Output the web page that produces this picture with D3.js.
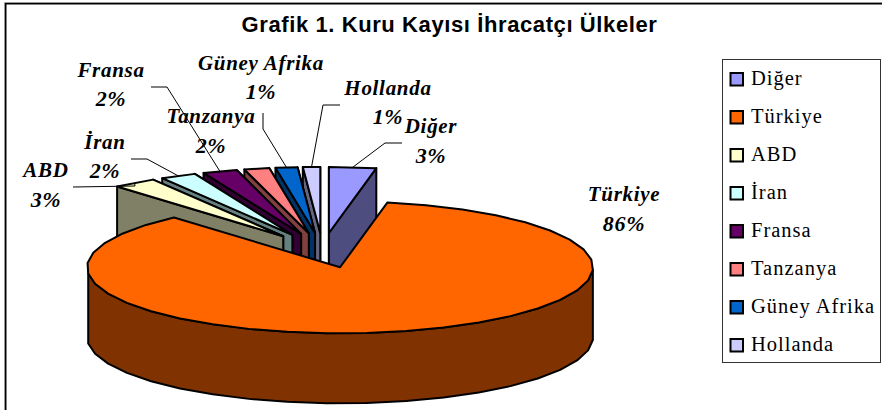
<!DOCTYPE html>
<html><head><meta charset="utf-8">
<script src="https://cdn.jsdelivr.net/npm/d3@7/dist/d3.min.js"></script>
<style>html,body{margin:0;padding:0;background:#fff}svg{display:block}</style>
</head><body><svg id="c" width="882" height="410"></svg>
<script>
const title = "Grafik 1. Kuru Kayısı İhracatçı Ülkeler";
const categories = ["Diğer","Türkiye","ABD","İran","Fransa","Tanzanya","Güney Afrika","Hollanda"];
const shares = [3.0,85.6,2.8,2.3,2.2,1.6,1.4,1.1];
const percentLabels = ["3%","86%","3%","2%","2%","2%","1%","1%"];
const colors = ["#9999ff","#ff6600","#ffffcc","#ccffff","#660066","#ff8080","#0066cc","#ccccff"];

// label layout: [centre x, name baseline, percent baseline], leader start/elbow
const labelPos = [[431,133,163],[624,201,231],[46,177,207],[105,149,178],[111,77,106],[211,123,153],[261,70,99],[388,95,124]];
const leaderStart = [[402,143],null,[73,187],[131,159],[151,87],null,[263,113],[340,105]];
const leaderElbow = [[385,143],null,[135,186],[147,159],[167,87],null,[263,129],[323,105]];

const svg = d3.select("#c");
const RX = 253, SQUASH = 0.261, DEPTH = 70, EXPLODE = 67;
const cx = 322.6, cy = 250.4, STEP = Math.PI/20;
const px = d3.scaleLinear().domain([-1,1]).range([-RX,RX]);
const py = d3.scaleLinear().domain([-1,1]).range([-RX*SQUASH,RX*SQUASH]);
const line = d3.line();
const darker = c => { const r=d3.rgb(c); return d3.rgb(r.r/2,r.g/2,r.b/2).formatHex(); };

const arcs = d3.pie().sort(null).value(d=>d).startAngle(0).endAngle(2*Math.PI)(shares);
const slices = arcs.map((a,i)=>{
  const mid=(a.startAngle+a.endAngle)/2;
  const ax=cx+px(Math.sin(mid))*EXPLODE/RX, ay=cy-py(Math.cos(mid))*EXPLODE/RX;
  const rim=t=>[ax+px(Math.sin(t)), ay-py(Math.cos(t))];
  const samples=[]; 
  const k=Math.max(1,Math.round((a.endAngle-a.startAngle)/STEP));
  for(let j=0;j<=k;j++) samples.push(a.startAngle+(a.endAngle-a.startAngle)*j/k);
  return {i,a,mid,ax,ay,rim,samples,color:colors[i],side:darker(colors[i])};
});
const stroke = (sel,w)=>sel.attr("stroke","#000").attr("stroke-width",w).attr("stroke-linejoin","round");
const G = svg.append("g");

function drawWall(s,t){
  const p=s.rim(t);
  stroke(G.append("path").attr("d",line([[s.ax,s.ay],p,[p[0],p[1]+DEPTH],[s.ax,s.ay+DEPTH]])+"Z").attr("fill",s.side),2);
}
function drawTop(s){
  stroke(G.append("path").attr("d",line([[s.ax,s.ay],...s.samples.map(s.rim)])+"Z").attr("fill",s.color),2);
}
// painter order: back fan from the centre outward, then Diğer, then Türkiye
[7,6,5,4,3,2].forEach(i=>{const s=slices[i]; drawWall(s,s.a.endAngle); drawWall(s,s.a.startAngle); drawTop(s);});
{const s=slices[0]; drawWall(s,s.a.startAngle); drawWall(s,s.a.endAngle); drawTop(s);}
{const s=slices[1];
  const front=s.samples.filter(t=>Math.cos(t)<=0.02);
  const up=front.map(s.rim), down=front.map(t=>{const p=s.rim(t);return [p[0],p[1]+DEPTH];}).reverse();
  stroke(G.append("path").attr("d",line([...up,...down])+"Z").attr("fill",s.side),2);
  drawTop(s);
}

// leaders
slices.forEach(s=>{
  if(!leaderStart[s.i]) return;
  G.append("path").attr("d",line([leaderStart[s.i],leaderElbow[s.i],s.rim(s.mid)]))
   .attr("fill","none").attr("stroke","#000").attr("stroke-width",1);
});

// data labels
const lab = svg.append("g").attr("font-family","'Liberation Serif',serif").attr("font-weight","bold")
  .attr("font-style","italic").attr("font-size",21).attr("letter-spacing",0.7).attr("text-anchor","middle").attr("fill","#000");
categories.forEach((c,i)=>{
  lab.append("text").attr("x",labelPos[i][0]).attr("y",labelPos[i][1]).text(c);
  lab.append("text").attr("x",labelPos[i][0]).attr("y",labelPos[i][2]).attr("font-size",22).text(percentLabels[i]);
});

// title
svg.append("text").attr("x",449.5).attr("y",32).attr("text-anchor","middle")
  .attr("font-family","'Liberation Sans',sans-serif").attr("font-weight","bold").attr("font-size",22).attr("letter-spacing",0.6).text(title);

// chart frame
svg.append("path").attr("d","M4.5,410V2.5H882").attr("fill","none").attr("stroke","#999").attr("stroke-width",1);
svg.append("path").attr("d","M5.75,410V3.75H882").attr("fill","none").attr("stroke","#000").attr("stroke-width",1.5);

// legend
svg.append("rect").attr("x",722.5).attr("y",59.5).attr("width",158).attr("height",303)
  .attr("fill","#fff").attr("stroke","#333").attr("stroke-width",1);
const rowY = d3.scalePoint().domain(categories).range([79,345]);
categories.forEach((c,i)=>{
  const y=rowY(c);
  svg.append("rect").attr("x",730.5).attr("y",y-6).attr("width",12.5).attr("height",12.5)
    .attr("fill",colors[i]).attr("stroke","#000").attr("stroke-width",2);
  svg.append("text").attr("x",751).attr("y",y+6).attr("font-family","'Liberation Serif',serif")
    .attr("font-size",20.5).attr("letter-spacing",1).text(c);
});
</script></body></html>
